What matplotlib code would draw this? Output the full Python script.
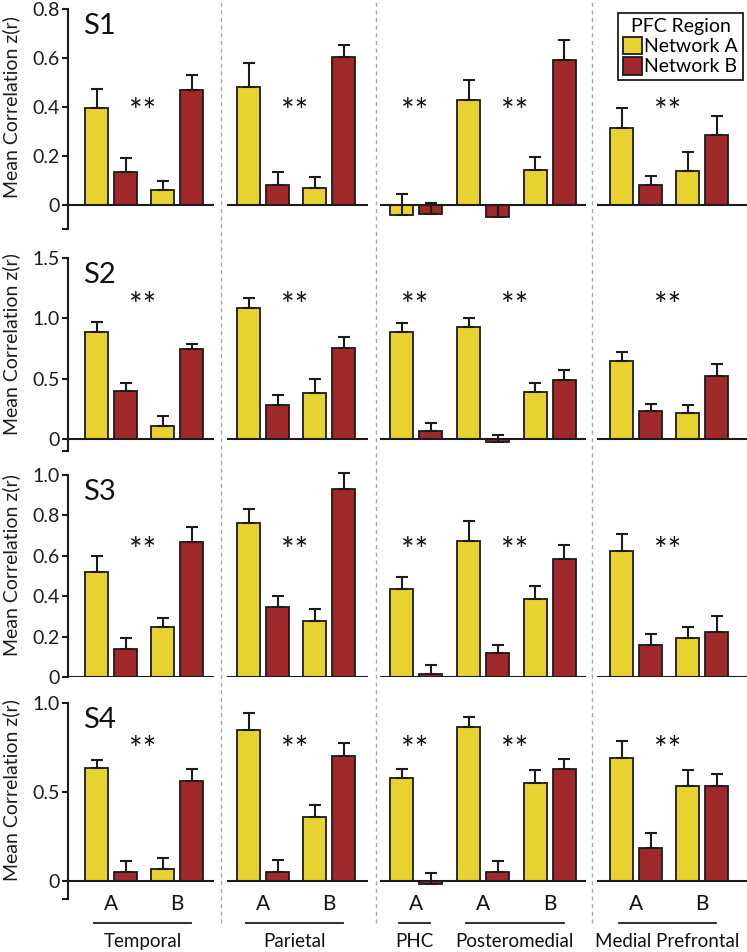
import matplotlib
matplotlib.use('Agg')
import matplotlib.pyplot as plt
import matplotlib.transforms as mtransforms
from matplotlib.patches import Patch
from matplotlib.lines import Line2D

plt.rcParams['font.family'] = ['Lato', 'DejaVu Sans']

# Data: groups are region/condition pairs along the x axis
subjects = ['S1', 'S2', 'S3', 'S4']
regions = ['Temporal', 'Parietal', 'PHC', 'Posteromedial', 'Medial Prefrontal']
region_conds = [['A', 'B'], ['A', 'B'], ['A'], ['A', 'B'], ['A', 'B']]
series_names = ['Network A', 'Network B']

# order: TempA, TempB, ParA, ParB, PHC A, PM A, PM B, MPF A, MPF B
s1_net_a = [0.395, 0.06, 0.482, 0.066, -0.042, 0.428, 0.143, 0.312, 0.139]
s1_net_a_err = [0.078, 0.035, 0.098, 0.045, 0.085, 0.083, 0.051, 0.085, 0.074]
s1_net_b = [0.132, 0.47, 0.078, 0.602, -0.038, -0.051, 0.592, 0.078, 0.283]
s1_net_b_err = [0.058, 0.058, 0.054, 0.05, 0.043, 0.05, 0.08, 0.04, 0.081]

s2_net_a = [0.887, 0.11, 1.083, 0.38, 0.89, 0.931, 0.388, 0.65, 0.212]
s2_net_a_err = [0.083, 0.083, 0.085, 0.116, 0.074, 0.069, 0.072, 0.074, 0.072]
s2_net_b = [0.40, 0.744, 0.284, 0.75, 0.063, -0.025, 0.485, 0.228, 0.518]
s2_net_b_err = [0.06, 0.047, 0.082, 0.096, 0.069, 0.055, 0.088, 0.058, 0.107]

s3_net_a = [0.521, 0.249, 0.76, 0.279, 0.437, 0.673, 0.388, 0.626, 0.193]
s3_net_a_err = [0.078, 0.045, 0.07, 0.058, 0.058, 0.1, 0.061, 0.081, 0.057]
s3_net_b = [0.139, 0.67, 0.345, 0.93, 0.015, 0.119, 0.586, 0.157, 0.221]
s3_net_b_err = [0.056, 0.071, 0.058, 0.082, 0.046, 0.041, 0.069, 0.058, 0.081]

s4_net_a = [0.634, 0.069, 0.848, 0.36, 0.577, 0.863, 0.549, 0.69, 0.534]
s4_net_a_err = [0.044, 0.062, 0.098, 0.065, 0.054, 0.058, 0.075, 0.096, 0.09]
s4_net_b = [0.05, 0.563, 0.049, 0.70, -0.018, 0.049, 0.627, 0.185, 0.534]
s4_net_b_err = [0.062, 0.066, 0.071, 0.073, 0.065, 0.067, 0.06, 0.085, 0.067]

y_limits = [(-0.1, 0.8), (-0.1, 1.5), (0.0, 1.0), (-0.1, 1.0)]
y_ticks = [[0, 0.2, 0.4, 0.6, 0.8], [0, 0.5, 1.0, 1.5],
           [0, 0.2, 0.4, 0.6, 0.8, 1.0], [0, 0.5, 1.0]]
y_ticklabels = [['0', '0.2', '0.4', '0.6', '0.8'], ['0', '0.5', '1.0', '1.5'],
                ['0', '0.2', '0.4', '0.6', '0.8', '1.0'], ['0', '0.5', '1.0']]
star_level = [0.41, 1.165, 0.665, 0.78]

rows = [(s1_net_a, s1_net_a_err, s1_net_b, s1_net_b_err),
        (s2_net_a, s2_net_a_err, s2_net_b, s2_net_b_err),
        (s3_net_a, s3_net_a_err, s3_net_b, s3_net_b_err),
        (s4_net_a, s4_net_a_err, s4_net_b, s4_net_b_err)]

# Layout (x in pixel-like units across the figure width)
W, H = 747, 952
pair_x = [111, 177, 263, 329, 416, 483, 549.5, 636, 702]
region_pairs = [[0, 1], [2, 3], [4], [5, 6], [7, 8]]
bar_off, bar_w = 14.5, 23
blocks = [(68, 214), (227, 368), (380, 586), (597, 747)]
separators = [220.5, 375.5, 592]
row_px = [(9, 229), (258, 451), (475, 677), (703, 899)]

yellow = '#E8D22F'
red = '#A0272A'
ink = '#1c1c1c'

fig = plt.figure(figsize=(W / 100, H / 100), dpi=100)

axes = []
for r in range(4):
    top, bot = row_px[r]
    ax = fig.add_axes([68 / W, 1 - bot / H, (W - 68) / W, (bot - top) / H])
    axes.append(ax)
    va, va_err, vb, vb_err = rows[r]
    xa = [x - bar_off for x in pair_x]
    xb = [x + bar_off for x in pair_x]
    ekw = dict(ecolor=ink, elinewidth=1.5, capsize=4, capthick=1.5)
    bars_a = ax.bar(xa, va, bar_w, color=yellow, edgecolor=ink, linewidth=1.3,
                    yerr=[[0] * len(va), va_err], error_kw=ekw)
    bars_b = ax.bar(xb, vb, bar_w, color=red, edgecolor=ink, linewidth=1.3,
                    yerr=[[0] * len(vb), vb_err], error_kw=ekw)
    for cont in (bars_a, bars_b):
        _, caps, barlines = cont.errorbar.lines
        for art in list(caps) + list(barlines):
            art.set_clip_on(False)
    for x0, x1 in blocks:
        ax.plot([x0, x1], [0, 0], color=ink, lw=1.5, solid_capstyle='butt', zorder=3)

    # significance stars
    for pairs in region_pairs:
        xs = (pair_x[pairs[0]] + pair_x[pairs[-1]]) / 2
        ax.annotate('**', (xs - 1.5, star_level[r]), xytext=(0, -13), textcoords='offset points',
                    ha='center', va='baseline', fontsize=23, color='#111')

    ax.set_xlim(68, W)
    ax.set_ylim(*y_limits[r])
    lo = y_limits[r][0]
    ticks = ([lo] if lo < 0 else []) + y_ticks[r]
    labels = ([''] if lo < 0 else []) + y_ticklabels[r]
    ax.set_yticks(ticks)
    ax.set_yticklabels(labels, fontsize=14, color=ink)
    ax.tick_params(axis='y', direction='out', length=4, width=1.5, color=ink, pad=2)
    ax.set_xticks([])
    for s in ['top', 'right', 'bottom']:
        ax.spines[s].set_visible(False)
    ax.spines['left'].set_linewidth(1.5)
    ax.spines['left'].set_color(ink)
    ax.set_ylabel('Mean Correlation z(r)', fontsize=14, color=ink)
    ax.yaxis.set_label_coords(-0.071, 0.555)
    ax.text(0.022, 1 - 4 / (bot - top), subjects[r], transform=ax.transAxes,
            ha='left', va='top', fontsize=21, color='#111')
    ax.patch.set_visible(False)

# dashed separators across all rows
sep_tr = mtransforms.blended_transform_factory(axes[-1].transData, fig.transFigure)
for xs in separators:
    fig.add_artist(Line2D([xs, xs], [1 - 923 / H, 1.0], transform=sep_tr,
                          color='#aaaaaa', lw=1, linestyle=(0, (3, 2.5))))

# bottom labels
for k, name in enumerate(regions):
    idx = region_pairs[k]
    for j, cond in zip(idx, region_conds[k]):
        fig.text(pair_x[j], 1 - 910 / H, cond, transform=sep_tr, ha='center', va='baseline',
                 fontsize=15, color='#111')
    x0 = pair_x[idx[0]] - 17
    x1 = pair_x[idx[-1]] + 14
    fig.add_artist(Line2D([x0, x1], [1 - 923 / H] * 2, transform=sep_tr, color=ink, lw=1.3))
    fig.text((x0 + x1) / 2, 1 - 947 / H, name, transform=sep_tr, ha='center', va='baseline',
             fontsize=13.5, color='#111')

# legend
handles = [Patch(facecolor=yellow, edgecolor=ink, linewidth=1.3),
           Patch(facecolor=red, edgecolor=ink, linewidth=1.3)]
leg = fig.legend(handles, series_names, title='PFC Region', loc='upper right',
                 bbox_to_anchor=(743 / W, 1 - 13 / H), fontsize=14, title_fontsize=14,
                 handlelength=1.0, handleheight=1.0, handletextpad=0.1, labelspacing=0.1,
                 borderpad=0.25, borderaxespad=0, fancybox=False, framealpha=1)
leg.get_frame().set_edgecolor(ink)
leg.get_frame().set_linewidth(1.3)

fig.savefig('out.png', dpi=100)
